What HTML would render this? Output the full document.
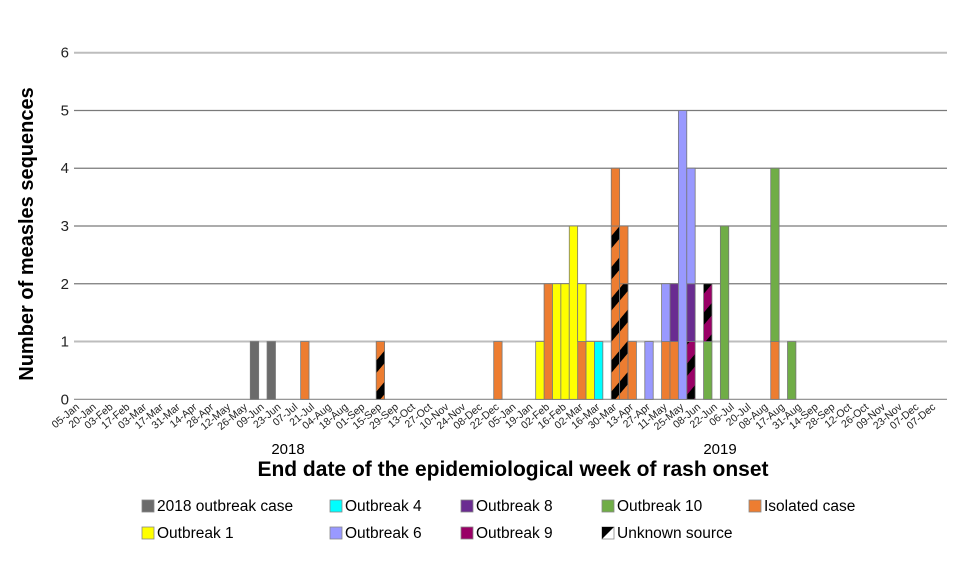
<!DOCTYPE html>
<html><head><meta charset="utf-8"><style>
html,body{margin:0;padding:0;background:#fff;}
svg{display:block;font-family:"Liberation Sans",sans-serif;}
</style></head><body>
<svg id="chart" width="980" height="576" viewBox="0 0 980 576">
<defs>
<pattern id="hatchOrange" patternUnits="userSpaceOnUse" width="20" height="20" patternTransform="rotate(-50)">
<rect width="20" height="20" fill="#ed7d31"/><rect width="20" height="8" fill="#000"/>
</pattern>
<pattern id="hatchMagenta" patternUnits="userSpaceOnUse" width="20" height="20" patternTransform="rotate(-50)">
<rect width="20" height="20" fill="#990066"/><rect width="20" height="8" fill="#000"/>
</pattern>
</defs>
<g id="grid"></g>
<g id="bars"></g>
<g id="xlabels"></g>
<g id="ylabels"></g>
<text x="288" y="454" font-size="15" text-anchor="middle" fill="#000">2018</text>
<text x="720" y="454" font-size="15" text-anchor="middle" fill="#000">2019</text>
<text x="513" y="476" font-size="21" font-weight="bold" text-anchor="middle" fill="#000">End date of the epidemiological week of rash onset</text>
<text transform="translate(33,234) rotate(-90)" font-size="20" font-weight="bold" text-anchor="middle" fill="#000">Number of measles sequences</text>
<g id="legend"></g>
</svg>
<script>
const tickLabels = ["05-Jan","20-Jan","03-Feb","17-Feb","03-Mar","17-Mar","31-Mar","14-Apr","28-Apr","12-May","26-May","09-Jun","23-Jun","07-Jul","21-Jul","04-Aug","18-Aug","01-Sep","15-Sep","29-Sep","13-Oct","27-Oct","10-Nov","24-Nov","08-Dec","22-Dec","05-Jan","19-Jan","02-Feb","16-Feb","02-Mar","16-Mar","30-Mar","13-Apr","27-Apr","11-May","25-May","08-Jun","22-Jun","06-Jul","20-Jul","08-Aug","17-Aug","31-Aug","14-Sep","28-Sep","12-Oct","26-Oct","09-Nov","23-Nov","07-Dec","07-Dec"];
const yTicks = [0,1,2,3,4,5,6];
// stacking order bottom->top; each series: week slots and values
const unknownIsolatedWeeks = [36,64,65];
const unknownIsolatedValues = [1,3,2];
const isolatedWeeks = [27,50,56,60,64,65,66,70,71,83];
const isolatedValues = [1,1,2,1,1,1,1,1,1,1];
const outbreak10Weeks = [75,77,83,85];
const outbreak10Values = [1,3,3,1];
const outbreak9Weeks = [73,75];
const outbreak9Values = [1,1];
const outbreak8Weeks = [71,73];
const outbreak8Values = [1,1];
const outbreak6Weeks = [68,70,72,73];
const outbreak6Values = [1,1,5,2];
const outbreak1Weeks = [55,57,58,59,60,61];
const outbreak1Values = [1,2,2,3,1,1];
const outbreak4Weeks = [62];
const outbreak4Values = [1];
const outbreak2018Weeks = [21,23];
const outbreak2018Values = [1,1];

const NS="http://www.w3.org/2000/svg";
const X0=74,X1=947,Y0=399.3,Y6=52.7,NSLOTS=104;
const SW=(X1-X0)/NSLOTS;
const xs=s=>X0+s*SW;
const ys=v=>Y0-(Y0-Y6)*v/6;
function mk(tag,attrs,parent){const e=document.createElementNS(NS,tag);for(const k in attrs)e.setAttribute(k,attrs[k]);parent.appendChild(e);return e;}
const grid=document.getElementById('grid');
yTicks.forEach(v=>{
  const l=mk('line',{x1:X0,x2:X1,y1:ys(v),y2:ys(v),stroke:(v===6||v===1)?'#bdbdbd':(v===0?'#888':'#7a7a7a'),'stroke-width':(v===6||v===1)?2:1.2},grid);
  
  
  const t=mk('text',{x:69,y:ys(v)+5,'font-size':15,'text-anchor':'end',fill:'#222'},document.getElementById('ylabels'));
  t.textContent=v;
  
  
});
const xl=document.getElementById('xlabels');
tickLabels.forEach((lab,k)=>{
  const x=xs(2*k)+6,y=408;
  const t=mk('text',{transform:`translate(${x},${y}) rotate(-40)`,'font-size':10.5,'text-anchor':'end',fill:'#222'},xl);
  t.textContent=lab;
  
  
});
const series=[
 ['unknown-isolated',unknownIsolatedWeeks,unknownIsolatedValues,'url(#hatchOrange)'],
 ['isolated-case',isolatedWeeks,isolatedValues,'#ed7d31'],
 ['outbreak-10',outbreak10Weeks,outbreak10Values,'#70ad47'],
 ['outbreak-9',outbreak9Weeks,outbreak9Values,'url(#hatchMagenta)'],
 ['outbreak-8',outbreak8Weeks,outbreak8Values,'#6a2c91'],
 ['outbreak-6',outbreak6Weeks,outbreak6Values,'#9999ff'],
 ['outbreak-1',outbreak1Weeks,outbreak1Values,'#ffff00'],
 ['outbreak-4',outbreak4Weeks,outbreak4Values,'#00ffff'],
 ['outbreak-2018',outbreak2018Weeks,outbreak2018Values,'#6b6b6b']
];
const stack={};
const bars=document.getElementById('bars');
series.forEach(([name,wks,vals,fill])=>{
  wks.forEach((w,i)=>{
    const base=stack[w]||0,top=base+vals[i];
    const r=mk('rect',{x:xs(w),y:ys(top),width:SW,height:ys(base)-ys(top),fill:fill,stroke:'#777','stroke-width':0.8},bars);
    
    
    stack[w]=top;
  });
});
const legendItems=[
 ['2018 outbreak case','#6b6b6b',142,506],['Outbreak 4','#00ffff',330,506],['Outbreak 8','#6a2c91',461,506],['Outbreak 10','#70ad47',602,506],['Isolated case','#ed7d31',749,506],
 ['Outbreak 1','#ffff00',142,533],['Outbreak 6','#9999ff',330,533],['Outbreak 9','#990066',461,533],['Unknown source','unk',602,533]
];
const lg=document.getElementById('legend');
legendItems.forEach(([lab,c,x,y])=>{
  const g=mk('g',{},lg);
  
  
  if(c==='unk'){
    mk('rect',{x:x,y:y-6,width:12,height:12,fill:'#fff',stroke:'#888','stroke-width':0.8},g);
    mk('polygon',{points:`${x},${y+6} ${x},${y-6} ${x+12},${y-6}`,fill:'#000'},g);
  } else {
    mk('rect',{x:x,y:y-6,width:12,height:12,fill:c,stroke:'#888','stroke-width':0.8},g);
  }
  const t=mk('text',{x:x+15,y:y+5,'font-size':15.5,fill:'#000'},g);
  t.textContent=lab;
});
</script>
</body></html>
